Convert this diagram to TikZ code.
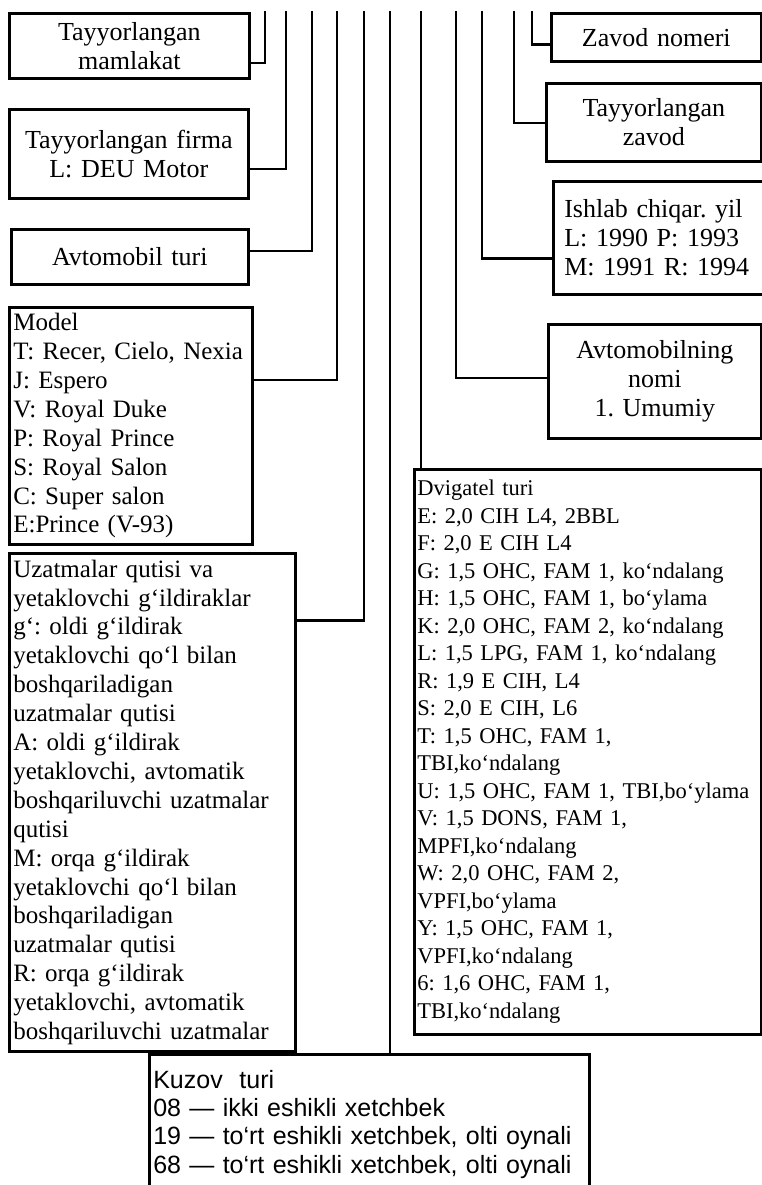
\documentclass[tikz,border=0pt]{standalone}
\usepackage{fontspec}
\setmainfont{Liberation Serif}
\newfontfamily\kzfont{Liberation Sans}
\usetikzlibrary{calc}
\frenchspacing
\begin{document}
\begin{tikzpicture}[x=1pt,y=-1pt,
  bx/.style={draw, line width=2.6pt, inner ysep=0pt, inner xsep=4pt, anchor=north west},
  ln/.style={line width=2.4pt},
  big/.style={font=\frenchspacing\fontsize{26}{29}\selectfont},
  mid/.style={font=\frenchspacing\fontsize{25}{28.9}\selectfont},
  sml/.style={font=\frenchspacing\fontsize{22.5}{27.5}\selectfont},
  kz/.style={font=\frenchspacing\kzfont\fontsize{25}{28.3}\selectfont},
  ]
\useasboundingbox (0,0) rectangle (762,1185);
\clip (0,0) rectangle (762,1185);

% left column
\node[bx,big,minimum width=240pt,minimum height=65pt,text width=232pt,align=center] (mam) at (8,12) {Tayyorlangan\\mamlakat};
\node[bx,big,minimum width=239pt,minimum height=89pt,text width=231pt,align=center] (firma) at (8,108) {Tayyorlangan firma\\L: DEU Motor};
\node[bx,big,minimum width=237pt,minimum height=55pt,text width=229pt,align=center] (turi) at (10,228) {Avtomobil turi};
\node[bx,mid,minimum width=243pt,minimum height=237pt,text width=235pt,align=left] (model) at (8,306) {Model\\T: Recer, Cielo, Nexia\\J: Espero\\V: Royal Duke\\P: Royal Prince\\S: Royal Salon\\C: Super salon\\E:Prince (V-93)};
\node[bx,mid,minimum width=286pt,minimum height=498pt,text width=278pt,align=left] (uzat) at (8,552) {Uzatmalar qutisi va\\yetaklovchi g‘ildiraklar\\g‘: oldi g‘ildirak\\yetaklovchi qo‘l bilan\\boshqariladigan\\uzatmalar qutisi\\A: oldi g‘ildirak\\yetaklovchi, avtomatik\\boshqariluvchi uzatmalar\\qutisi\\M: orqa g‘ildirak\\yetaklovchi qo‘l bilan\\boshqariladigan\\uzatmalar qutisi\\R: orqa g‘ildirak\\yetaklovchi, avtomatik\\boshqariluvchi uzatmalar};

% right column
\node[bx,big,minimum width=210pt,minimum height=48pt,text width=202pt,align=center] (nomeri) at (550,12) {Zavod nomeri};
\node[bx,big,minimum width=215pt,minimum height=78pt,text width=207pt,align=center] (zavod) at (545,82) {Tayyorlangan\\zavod};
\node[bx,big,inner xsep=11pt,minimum width=208pt,minimum height=113pt,text width=196pt,align=left] (ishlab) at (552,180) {Ishlab chiqar. yil\\L: 1990 P: 1993\\M: 1991 R: 1994};
\node[bx,big,minimum width=213pt,minimum height=114pt,text width=205pt,align=center] (nomi) at (547,323) {Avtomobilning\\nomi\\1. Umumiy};
\node[bx,sml,inner xsep=3pt,minimum width=347pt,minimum height=565pt,text width=341pt,align=left] (dvig) at (413,468) {Dvigatel turi\\E: 2,0 CIH L4, 2BBL\\F: 2,0 E CIH L4\\G: 1,5 OHC, FAM 1, ko‘ndalang\\H: 1,5 OHC, FAM 1, bo‘ylama\\K: 2,0 OHC, FAM 2, ko‘ndalang\\L: 1,5 LPG, FAM 1, ko‘ndalang\\R: 1,9 E CIH, L4\\S: 2,0 E CIH, L6\\T: 1,5 OHC, FAM 1,\\TBI,ko‘ndalang\\U: 1,5 OHC, FAM 1, TBI,bo‘ylama\\V: 1,5 DONS, FAM 1,\\MPFI,ko‘ndalang\\W: 2,0 OHC, FAM 2,\\VPFI,bo‘ylama\\Y: 1,5 OHC, FAM 1,\\VPFI,ko‘ndalang\\6: 1,6 OHC, FAM 1,\\TBI,ko‘ndalang};

% bottom
\node[bx,kz,minimum width=440pt,minimum height=140pt,text width=432pt,align=left] (kuzov) at (148,1053) {Kuzov\ \ turi\\08 — ikki eshikli xetchbek\\19 — to‘rt eshikli xetchbek, olti oynali\\68 — to‘rt eshikli xetchbek, olti oynali};

% free ends of the connectors
\coordinate (t1) at (265,11);
\coordinate (t2) at (286,11);
\coordinate (t3) at (312,11);
\coordinate (t4) at (337,11);
\coordinate (t5) at (364,11);
\coordinate (t6) at (390,11);
\coordinate (t7) at (421,11);
\coordinate (t8) at (456,11);
\coordinate (t9) at (482,11);
\coordinate (t10) at (514,11);
\coordinate (t11) at (532,11);

\draw[ln] (t1) |- ($(mam.south east)!0.246!(mam.north east)$);
\draw[ln] (t2) |- ($(firma.south east)!0.337!(firma.north east)$);
\draw[ln] (t3) |- ($(turi.south east)!0.6!(turi.north east)$);
\draw[ln] (t4) |- ($(model.south east)!0.69!(model.north east)$);
\draw[ln] (t5) |- ($(uzat.south east)!0.863!(uzat.north east)$);
\draw[ln] (t6) -- (t6 |- kuzov.north);
\draw[ln] (t7) -- (t7 |- dvig.north);
\draw[ln] (t8) |- ($(nomi.south west)!0.526!(nomi.north west)$);
\draw[ln] (t9) |- ($(ishlab.south west)!0.32!(ishlab.north west)$);
\draw[ln] (t10) |- ($(zavod.south west)!0.49!(zavod.north west)$);
\draw[ln] (t11) |- ($(nomeri.south west)!0.354!(nomeri.north west)$);
\end{tikzpicture}
\end{document}
